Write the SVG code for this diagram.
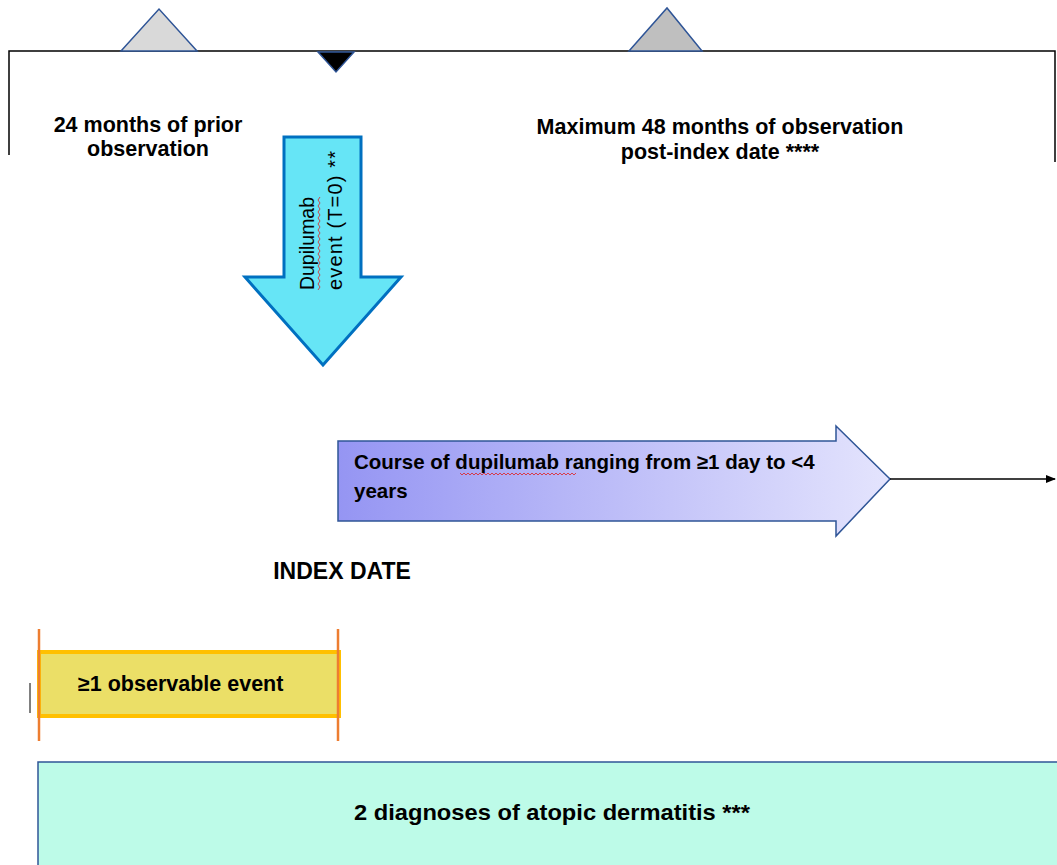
<svg xmlns="http://www.w3.org/2000/svg" width="1057" height="865" viewBox="0 0 1057 865">
<style>
text{font-family:"Liberation Sans",Arial,sans-serif;font-weight:bold;fill:#000}
.t21{font-size:21.5px}
.tri{stroke:#2f5597;stroke-width:1.5}
.sq{fill:none;stroke:#e02020;stroke-width:0.8}
</style>
<defs>
<linearGradient id="g1" x1="0" y1="0" x2="1" y2="0">
<stop offset="0" stop-color="#9595f3"/>
<stop offset="0.5" stop-color="#bdbdf8"/>
<stop offset="1" stop-color="#e4e4fd"/>
</linearGradient>
<marker id="ah" markerWidth="10" markerHeight="10" refX="9" refY="5" orient="auto" markerUnits="userSpaceOnUse">
<path d="M0,1 L10,5 L0,9 Z" fill="#000"/>
</marker>
</defs>
<rect width="1057" height="865" fill="#fff"/>
<g id="timeline">
<path d="M9,155 V51 H1055 V162" fill="none" stroke="#000" stroke-width="1.5"/>
<polygon class="tri" points="121,51 159,9 197,51" fill="#d9d9d9"/>
<polygon class="tri" points="629,51 667,8 702,51" fill="#bfbfbf"/>
<polygon class="tri" points="318,52 354,52 336,72" fill="#000"/>
</g>
<g id="prior">
<text class="t21" x="148" y="132" text-anchor="middle">24 months of prior</text>
<text class="t21" x="148" y="156" text-anchor="middle">observation</text>
</g>
<g id="post">
<text class="t21" x="720" y="134" text-anchor="middle">Maximum 48 months of observation</text>
<text class="t21" x="720" y="159" text-anchor="middle">post-index date ****</text>
</g>
<g id="dupilumab-event">
<polygon points="284,137 361,137 361,277 401,277 323,365 245,277 284,277" fill="#66e5f6" stroke="#0070c0" stroke-width="3"/>
<text transform="translate(314,290) rotate(-90)" font-size="20" style="font-weight:normal" textLength="93" lengthAdjust="spacingAndGlyphs">Dupilumab</text>
<text transform="translate(342,290) rotate(-90)" font-size="20" style="font-weight:normal" textLength="139" lengthAdjust="spacing">event (T=0) **</text>
<path class="sq" d="M318,290 l2,-3 l-2,-3 l2,-3 l-2,-3 l2,-3 l-2,-3 l2,-3 l-2,-3 l2,-3 l-2,-3 l2,-3 l-2,-3 l2,-3 l-2,-3 l2,-3 l-2,-3 l2,-3 l-2,-3 l2,-3 l-2,-3 l2,-3 l-2,-3 l2,-3 l-2,-3 l2,-3 l-2,-3 l2,-3 l-2,-3 l2,-3 l-2,-3 l2,-3"/>
</g>
<g id="course">
<polygon points="338,441 836,441 836,426 890,479 836,536 836,521 338,521" fill="url(#g1)" stroke="#2f5597" stroke-width="1.5"/>
<text x="354" y="469" font-size="20.5">Course of dupilumab ranging from ≥1 day to &lt;4</text>
<text x="354" y="498" font-size="20.5">years</text>
<path class="sq" d="M460,473 l2,2 l2,-2 l2,2 l2,-2 l2,2 l2,-2 l2,2 l2,-2 l2,2 l2,-2 l2,2 l2,-2 l2,2 l2,-2 l2,2 l2,-2 l2,2 l2,-2 l2,2 l2,-2 l2,2 l2,-2 l2,2 l2,-2 l2,2 l2,-2 l2,2 l2,-2 l2,2 l2,-2 l2,2 l2,-2 l2,2 l2,-2 l2,2 l2,-2 l2,2 l2,-2 l2,2 l2,-2 l2,2 l2,-2 l2,2 l2,-2 l2,2 l2,-2 l2,2 l2,-2 l2,2 l2,-2 l2,2 l2,-2 l2,2 l2,-2 l2,2 l2,-2 l2,2 l2,-2"/>
</g>
<g id="connectors">
<line x1="890" y1="479" x2="1055" y2="479" stroke="#000" stroke-width="1.5" marker-end="url(#ah)"/>
</g>
<g id="index-date">
<text x="342" y="579" text-anchor="middle" font-size="23">INDEX DATE</text>
</g>
<g id="observable-event">
<rect x="39" y="652" width="300" height="64" fill="#ebdf67" stroke="#ffc000" stroke-width="4"/>
<line x1="39" y1="629" x2="39" y2="741" stroke="#ed7d31" stroke-width="2.5"/>
<line x1="338" y1="629" x2="338" y2="741" stroke="#ed7d31" stroke-width="2.5"/>
<line x1="30" y1="683" x2="30" y2="713" stroke="#000" stroke-width="1"/>
<text class="t21" x="78" y="691">≥1 observable event</text>
</g>
<g id="atopic">
<rect x="38" y="762" width="1030" height="120" fill="#bdfbe8" stroke="#2f5597" stroke-width="1.5"/>
<text x="552" y="820" text-anchor="middle" font-size="22" textLength="396" lengthAdjust="spacingAndGlyphs">2 diagnoses of atopic dermatitis ***</text>
</g>
</svg>
